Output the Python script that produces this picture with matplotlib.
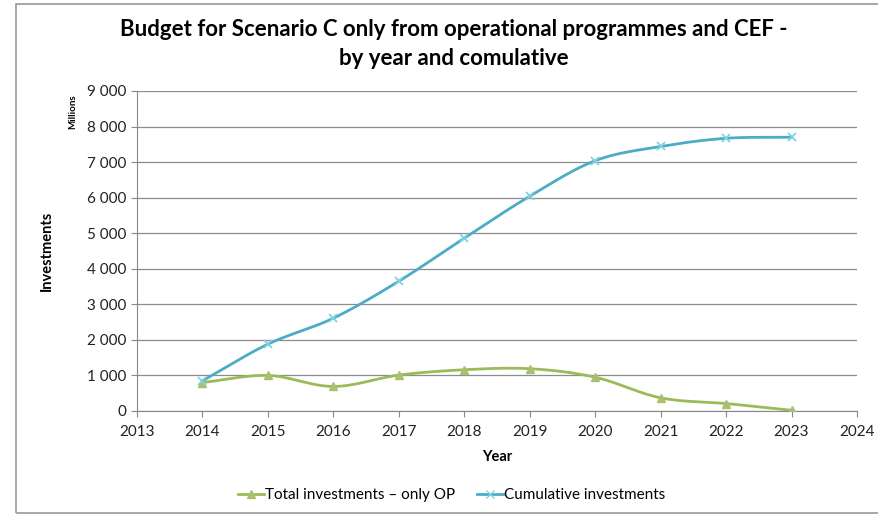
import numpy as np
import matplotlib

matplotlib.use("Agg")
import matplotlib.pyplot as plt
from matplotlib.patches import Rectangle
from matplotlib.ticker import FuncFormatter

YEARS = [2014, 2015, 2016, 2017, 2018, 2019, 2020, 2021, 2022, 2023]
TOTAL_OP = [800, 1000, 690, 1010, 1160, 1190, 950, 370, 210, 20]
CUMULATIVE = [850, 1880, 2610, 3650, 4860, 6040, 7040, 7440, 7670, 7700]

GREEN = "#9bbb59"
BLUE = "#4bacc6"
FONT = ["Lato", "DejaVu Sans"]


def smooth(x, y, n=30):
    # Excel-style smoothed line: Catmull-Rom through the points
    x = np.asarray(x, float); y = np.asarray(y, float)
    px = np.r_[2 * x[0] - x[1], x, 2 * x[-1] - x[-2]]
    py = np.r_[2 * y[0] - y[1], y, 2 * y[-1] - y[-2]]
    xs, ys = [], []
    t = np.linspace(0, 1, n)
    for i in range(1, len(px) - 2):
        for p, out in ((px, xs), (py, ys)):
            p0, p1, p2, p3 = p[i - 1], p[i], p[i + 1], p[i + 2]
            out.append(0.5 * (2 * p1 + (-p0 + p2) * t
                              + (2 * p0 - 5 * p1 + 4 * p2 - p3) * t ** 2
                              + (-p0 + 3 * p1 - 3 * p2 + p3) * t ** 3))
    return np.concatenate(xs), np.concatenate(ys)


plt.rcParams["font.family"] = FONT
fig = plt.figure(figsize=(8.79, 5.17), dpi=100)
fig.patches.append(Rectangle((16 / 879, 4 / 517), 1.0, 509 / 517, transform=fig.transFigure,
                             fill=False, edgecolor="#9a9a9a", linewidth=1.2))
ax = fig.add_axes([137 / 879, 1 - 411 / 517, 720 / 879, 320 / 517])

sx, sy = smooth(YEARS, TOTAL_OP)
ax.plot(sx, sy, color=GREEN, linewidth=2.0, zorder=3)
ax.plot(YEARS, TOTAL_OP, linestyle="none", marker="^", markersize=6,
        color="#a9c070", zorder=4)
cx, cy = smooth(YEARS, CUMULATIVE)
ax.plot(cx, cy, color=BLUE, linewidth=2.0, zorder=3)
ax.plot(YEARS, CUMULATIVE, linestyle="none", marker="x", markersize=6,
        markeredgewidth=1.3, color="#7fd3e0", zorder=4)

ax.set_xlim(2013, 2024)
ax.set_ylim(0, 9000)
ax.set_xticks(range(2013, 2025))
ax.set_yticks(range(0, 9001, 1000))
ax.yaxis.set_major_formatter(FuncFormatter(lambda v, _: f"{int(v):,}".replace(",", " ")))
ax.tick_params(axis="both", labelsize=11, colors="#222222", length=4, color="#888888")
ax.tick_params(axis="x", pad=6)
ax.grid(axis="y", color="#8c8c8c", linewidth=0.9)
ax.set_axisbelow(True)
ax.spines[["top", "right"]].set_visible(False)
ax.spines[["left", "bottom"]].set_color("#888888")

ax.set_xlabel("Year", fontsize=10.5, fontweight="bold", labelpad=8)
ax.set_ylabel("Investments", fontsize=10.5, fontweight="bold", labelpad=24)
fig.text(73 / 879, 1 - 112 / 517, "Millions", rotation=90, fontsize=7, fontweight="bold",
         ha="center", va="center")

fig.text(0.516, 1 - 30 / 517, "Budget for Scenario C only from operational programmes and CEF -",
         fontsize=16, fontweight="bold", ha="center", va="center")
fig.text(0.516, 1 - 58 / 517, "by year and comulative",
         fontsize=16, fontweight="bold", ha="center", va="center")

h1, = ax.plot([], [], color=GREEN, linewidth=2.0, marker="^", markersize=6,
              markerfacecolor="#a9c070", markeredgecolor="#a9c070")
h2, = ax.plot([], [], color=BLUE, linewidth=2.0, marker="x", markersize=6,
              markeredgecolor="#7fd3e0")
fig.legend([h1, h2], ["Total investments \u2013 only OP", "Cumulative investments"],
           loc="center", bbox_to_anchor=(0.514, 1 - 495 / 517), ncol=2, frameon=False,
           fontsize=11, handlelength=1.7, columnspacing=1.4, handletextpad=0.1)

fig.savefig("out.png", dpi=100)
